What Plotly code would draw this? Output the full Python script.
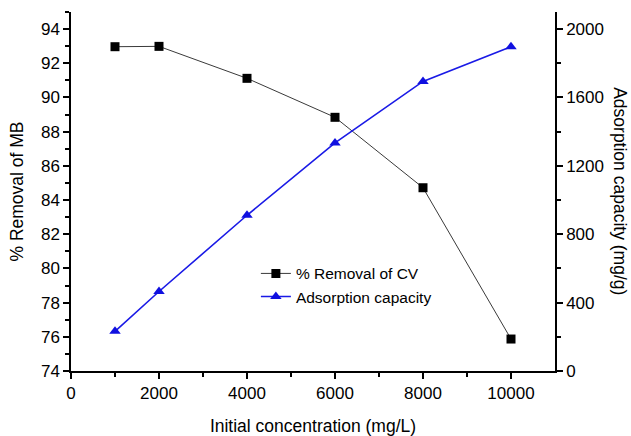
import plotly.graph_objects as go

conc = [1000, 2000, 4000, 6000, 8000, 10000]
removal_cv = [92.97, 92.99, 91.12, 88.84, 84.72, 75.87]
ads_capacity = [232, 465, 911, 1334, 1694, 1897]

x_ticks = [0, 2000, 4000, 6000, 8000, 10000]
x_labels = ["0", "2000", "4000", "6000", "8000", "10000"]

FONT = "Liberation Sans, Arial, sans-serif"

fig = go.Figure()
fig.add_trace(go.Scatter(
    x=conc, y=removal_cv, name="% Removal of CV", mode="lines+markers",
    line=dict(color="#3a3a3a", width=1),
    marker=dict(symbol="square", size=9, color="black"),
    yaxis="y", xaxis="x"))
fig.add_trace(go.Scatter(
    x=conc, y=ads_capacity, name="Adsorption capacity", mode="lines+markers",
    line=dict(color="#1a1ae6", width=1.6),
    marker=dict(symbol="triangle-up", size=10, color="#1010e0"),
    yaxis="y2", xaxis="x"))

axis_common = dict(showgrid=False, zeroline=False, linecolor="black", linewidth=1.5,
                   tickcolor="black", tickwidth=1.5, automargin=False,
                   tickfont=dict(family=FONT, size=17, color="black"))

fig.update_layout(
    width=631, height=436,
    margin=dict(l=71, r=76, t=12, b=65),
    paper_bgcolor="white", plot_bgcolor="white",
    font=dict(family=FONT, color="black"),
    showlegend=True,
    legend=dict(x=0.382, y=0.318, xanchor="left", yanchor="top",
                bgcolor="rgba(0,0,0,0)", font=dict(family=FONT, size=15.5),
                tracegroupgap=0, itemwidth=30),
    xaxis=dict(range=[0, 11000], tickvals=x_ticks, ticktext=x_labels,
               ticks="outside", ticklen=6, showline=True,
               minor=dict(tickvals=[1000, 3000, 5000, 7000, 9000], ticks="outside", ticklen=4,
                          tickcolor="black", tickwidth=1.5),
               title=dict(text="Initial concentration (mg/L)", font=dict(family=FONT, size=17.5), standoff=24),
               **axis_common),
    xaxis2=dict(range=[0, 11000], overlaying="x", side="top", anchor="y",
                tickvals=x_ticks[1:], ticks="inside", ticklen=6,
                showticklabels=False, showline=True,
                minor=dict(tickvals=[1000, 3000, 5000, 7000, 9000], ticks="inside", ticklen=4,
                           tickcolor="black", tickwidth=1.5),
                **axis_common),
    yaxis=dict(range=[74, 95], tickvals=list(range(74, 95, 2)),
               ticks="outside", ticklen=6, showline=True,
               minor=dict(tickvals=list(range(75, 96, 2)), ticks="outside", ticklen=4,
                          tickcolor="black", tickwidth=1.5),
               title=dict(text="% Removal of MB", font=dict(family=FONT, size=17.5), standoff=13),
               **axis_common),
    yaxis2=dict(range=[0, 2100], tickvals=[0, 400, 800, 1200, 1600, 2000],
                overlaying="y", side="right", anchor="x",
                ticks="outside", ticklen=6, showline=True,
                minor=dict(tickvals=[200, 600, 1000, 1400, 1800], ticks="outside", ticklen=4,
                           tickcolor="black", tickwidth=1.5),
                **axis_common),
    annotations=[dict(text="Adsorption capacity (mg/g)", textangle=90,
                      xref="paper", yref="paper", x=1.135, y=0.5,
                      xanchor="center", yanchor="middle", showarrow=False,
                      font=dict(family=FONT, size=17.5, color="black"))],
)

fig.write_html("out.html")
